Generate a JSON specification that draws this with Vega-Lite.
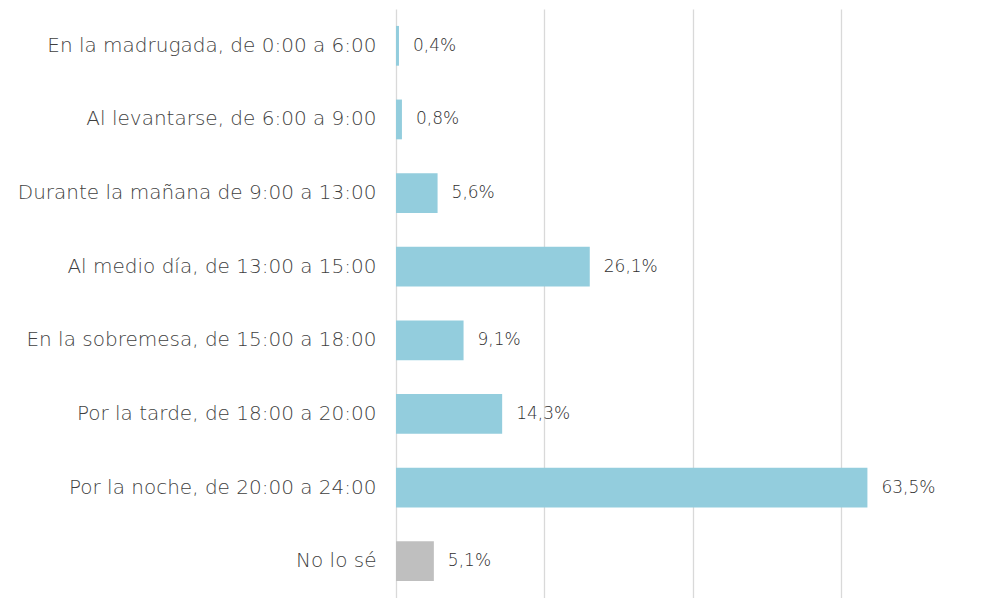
{
  "$schema": "https://vega.github.io/schema/vega-lite/v6.json",
  "autosize": {"type": "none"},
  "width": 585,
  "height": 589,
  "padding": {"left": 396, "top": 9, "right": 0, "bottom": 0},
  "background": "white",
  "config": {"view": {"stroke": null}, "font": "DejaVu Sans"},
  "data": {
    "values": [
      {"franja": "En la madrugada, de 0:00 a 6:00", "pct": 0.4, "label": "0,4%", "tipo": "a"},
      {"franja": "Al levantarse, de 6:00 a 9:00", "pct": 0.8, "label": "0,8%", "tipo": "a"},
      {"franja": "Durante la mañana de 9:00 a 13:00", "pct": 5.6, "label": "5,6%", "tipo": "a"},
      {"franja": "Al medio día, de 13:00 a 15:00", "pct": 26.1, "label": "26,1%", "tipo": "a"},
      {"franja": "En la sobremesa, de 15:00 a 18:00", "pct": 9.1, "label": "9,1%", "tipo": "a"},
      {"franja": "Por la tarde, de 18:00 a 20:00", "pct": 14.3, "label": "14,3%", "tipo": "a"},
      {"franja": "Por la noche, de 20:00 a 24:00", "pct": 63.5, "label": "63,5%", "tipo": "a"},
      {"franja": "No lo sé", "pct": 5.1, "label": "5,1%", "tipo": "b"}
    ]
  },
  "encoding": {
    "y": {
      "field": "franja", "type": "nominal", "sort": null,
      "scale": {"paddingInner": 0.46, "paddingOuter": 0.23},
      "axis": {"title": null, "ticks": false, "domain": false, "labelPadding": 20, "labelFontSize": 20, "labelFontWeight": 200, "labelColor": "#3F3F3F", "labelFont": "DejaVu Sans", "labelLimit": 500}
    },
    "x": {
      "field": "pct", "type": "quantitative",
      "scale": {"domain": [0, 78.8], "nice": false},
      "axis": {"title": null, "labels": false, "ticks": false, "domain": false, "values": [0, 20, 40, 60], "gridColor": "#D9D9D9", "gridWidth": 1.3}
    }
  },
  "layer": [
    {
      "mark": {"type": "bar"},
      "encoding": {
        "color": {"field": "tipo", "type": "nominal", "scale": {"domain": ["a", "b"], "range": ["#93CDDD", "#BFBFBF"]}, "legend": null}
      }
    },
    {
      "mark": {"type": "text", "align": "left", "dx": 14, "fontSize": 17, "fontWeight": 200, "color": "#303030", "font": "DejaVu Sans"},
      "encoding": {"text": {"field": "label"}}
    }
  ]
}
